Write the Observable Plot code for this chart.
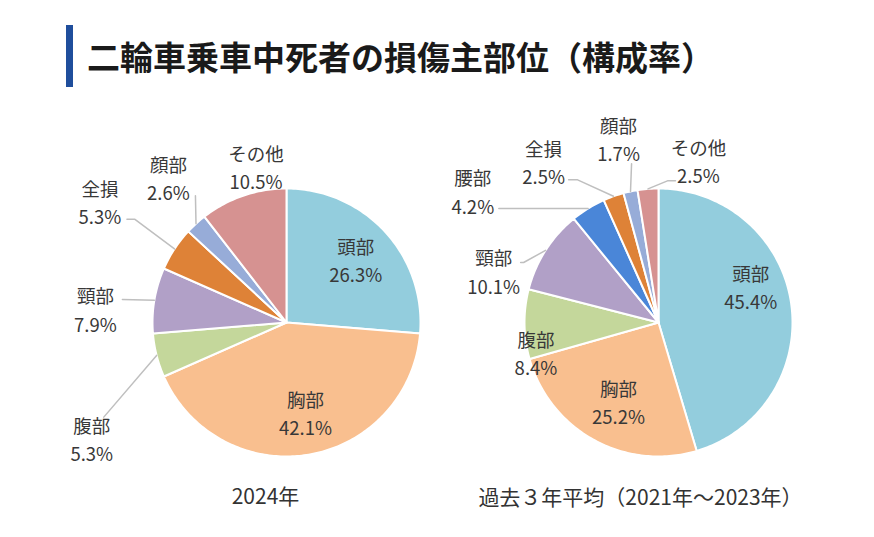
<!DOCTYPE html>
<html><head><meta charset="utf-8">
<script src="https://cdn.jsdelivr.net/npm/d3@7"></script>
<script src="https://cdn.jsdelivr.net/npm/@observablehq/plot@0.6"></script>
<style>
body{margin:0;background:#fff;font-family:"Noto Sans CJK JP","Noto Sans",sans-serif;}
#head{position:relative;height:100px;width:874px;}
#bar{position:absolute;left:66px;top:25px;width:7px;height:62px;background:#1f4e9c;}
#title{position:absolute;left:87px;top:40px;font-size:33px;line-height:33px;font-weight:700;color:#1a1a1a;white-space:nowrap;}
#chart svg{display:block;}
</style></head><body>
<div id="head"><div id="bar"></div><div id="title">二輪車乗車中死者の損傷主部位（構成率）</div></div>
<div id="chart"></div>
<script>
// ---- data ----
const categories = ["頭部","胸部","腹部","頸部","腰部","全損","顔部","その他"];
const colors = ["#93cddd","#f9bf8f","#c4d79b","#b1a0c7","#4a86d8","#de8237","#97acd8","#d69291"];
const parts2024 = ["頭部","胸部","腹部","頸部","全損","顔部","その他"];
const values2024 = [26.3,42.1,5.3,7.9,5.3,2.6,10.5];
const partsAvg = ["頭部","胸部","腹部","頸部","腰部","全損","顔部","その他"];
const valuesAvg = [45.4,25.2,8.4,10.1,4.2,2.5,1.7,2.5];
const captions = ["2024年","過去３年平均（2021年～2023年）"];

// ---- layout (pixels / radius units) ----
const W = 874, H = 437, R = 134;
const pieCenters = [[286,222],[658,222]];
const labelAngle = [[47.6,168,239.3,274.2,303,321,349],[68.6,206.9,256.6,287.5,305.4,324.6,347.8,13.8]];
const labelDist = [[0.70,0.68,1.69,1.43,1.66,1.40,1.19],[0.74,0.66,0.94,1.29,1.70,1.48,1.41,1.25]];
const leaders = [
  [null,null,[12,-21,0],[27,-9,0],[27,18,8],[27,19,0],null],
  [null,null,null,[27,-8,3],[26,18,85],[25,19,9],[13,26,0],[-23,21,-8]]
];
const captionOffset = [[-21,175],[-18,176]];

const pies = [
  {parts: parts2024, values: values2024},
  {parts: partsAvg, values: valuesAvg}
];

const slicePts = [], labels = [], leaderPts = [], capData = [];
const pieGen = d3.pie().sort(null).value(d => d.v);
pies.forEach((p, pi) => {
  const [cx, cy] = pieCenters[pi];
  const pt = (a, r) => [(cx + Math.sin(a) * r * R) / R, (cy - Math.cos(a) * r * R) / R];
  const arcs = pieGen(p.parts.map((k, i) => ({k, v: p.values[i]})));
  arcs.forEach((a, i) => {
    const key = pi + "-" + a.data.k;
    const n = Math.max(2, Math.ceil((a.endAngle - a.startAngle) / (Math.PI / 180)));
    const c = pt(0, 0);
    slicePts.push({key, part: a.data.k, x: c[0], y: c[1]});
    for (let j = 0; j <= n; j++) {
      const ang = a.startAngle + (a.endAngle - a.startAngle) * j / n;
      const q = pt(ang, 1);
      slicePts.push({key, part: a.data.k, x: q[0], y: q[1]});
    }
    slicePts.push({key, part: a.data.k, x: c[0], y: c[1]});
    const la = labelAngle[pi][i] * Math.PI / 180;
    const lp = pt(la, labelDist[pi][i]);
    labels.push({x: lp[0], y: lp[1], text: a.data.k + "\n" + a.data.v.toFixed(1) + "%"});
    const L = leaders[pi][i];
    if (L) {
      const mid = (a.startAngle + a.endAngle) / 2;
      const e = pt(mid, 1.0);
      const sx = lp[0] + L[0] / R, sy = lp[1] + L[1] / R;
      leaderPts.push({key, x: sx, y: sy});
      if (L[2]) leaderPts.push({key, x: sx + L[2] / R, y: sy});
      leaderPts.push({key, x: e[0], y: e[1]});
    }
  });
  capData.push({x: (cx + captionOffset[pi][0]) / R, y: (cy + captionOffset[pi][1]) / R, text: captions[pi]});
});

const font = '"Noto Sans CJK JP","Noto Sans",sans-serif';
const chart = Plot.plot({
  width: W, height: H, margin: 0,
  x: {domain: [0, W / R], axis: null},
  y: {domain: [H / R, 0], axis: null},
  color: {domain: categories, range: colors},
  style: {fontFamily: font, background: "#fff", overflow: "visible"},
  marks: [
    Plot.line(slicePts, {x: "x", y: "y", z: "key", fill: "part", stroke: "#fff", strokeWidth: 2, curve: "linear"}),
    Plot.line(leaderPts, {x: "x", y: "y", z: "key", stroke: "#bfbfbf", strokeWidth: 1.5, curve: "linear"}),
    Plot.text(labels, {x: "x", y: "y", text: "text", fontSize: 18.5, lineHeight: 1.52, fill: "#383838"}),
    Plot.text(capData, {x: "x", y: "y", text: "text", fontSize: 21, fill: "#333"})
  ]
});
document.getElementById("chart").appendChild(chart);
</script>
</body></html>
